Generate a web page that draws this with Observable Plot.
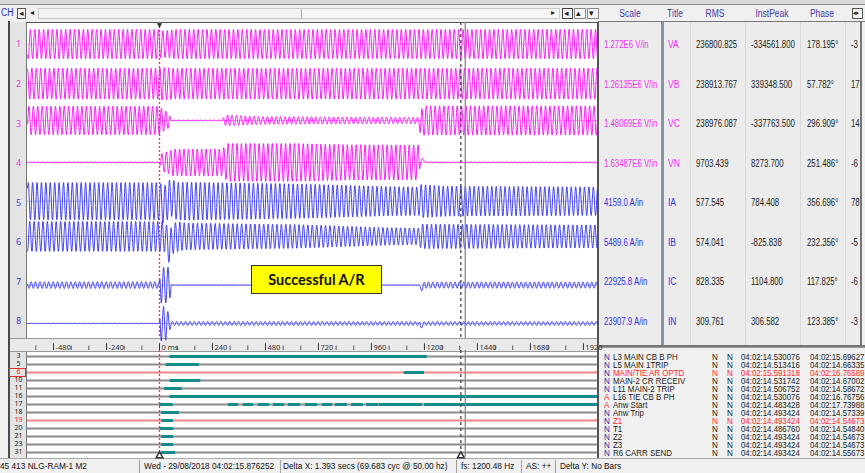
<!DOCTYPE html>
<html><head><meta charset="utf-8">
<script src="https://cdn.jsdelivr.net/npm/d3@7"></script>
<script src="https://cdn.jsdelivr.net/npm/@observablehq/plot@0.6"></script>
<style>
body{margin:0;background:#f0f0f0;}
#w{position:relative;width:865px;height:473px;overflow:hidden;background:#f0f0f0;font-family:"Liberation Sans",Arial,sans-serif;}
#w svg{overflow:visible}
</style></head>
<body><div id="w"></div>
<script>
// ---------------- DATA ----------------
const channels = ["1","2","3","4","5","6","7","8"];
const titles   = ["VA","VB","VC","VN","IA","IB","IC","IN"];
const kinds    = ["V","V","V","V","I","I","I","I"];
const scales   = ["1.272E6 V/in","1.26135E6 V/in","1.48069E6 V/in","1.63487E6 V/in","4159.0 A/in","5489.6 A/in","22925.8 A/in","23907.9 A/in"];
const rms      = ["236800.825","238913.767","238976.087","9703.439","577.545","574.041","828.335","309.761"];
const instPeak = ["-334561.800","339348.500","-337763.500","8273.700","784.408","-825.838","1104.800","306.582"];
const phase    = ["178.195°","57.782°","296.909°","251.486°","356.696°","232.356°","117.825°","123.385°"];
const nextCol  = ["-3","17","14","-6","78","-5","-6","-3"];

// envelope (half peak-to-peak, in channel heights) at [time ms, amplitude]
const envVA = [[-600,0.37],[0,0.37],[10,0.33],[50,0.35],[60,0.37],[2000,0.37]];
const envVB = [[-600,0.39],[0,0.39],[10,0.41],[50,0.40],[60,0.39],[2000,0.39]];
const envVC = [[-600,0.36],[0,0.36],[5,0.32],[45,0.18],[52,0.01],[280,0.01],[300,0.14],[450,0.10],[800,0.09],[1175,0.08],[1182,0.38],[1220,0.37],[2000,0.37]];
const envVN = [[-600,0.01],[0,0.01],[8,0.22],[50,0.30],[60,0.34],[285,0.34],[310,0.48],[620,0.48],[850,0.45],[1175,0.44],[1182,0.04],[1215,0.01],[2000,0.01]];
const envIA = [[-600,0.47],[0,0.47],[50,0.47],[120,0.48],[620,0.44],[1050,0.37],[1178,0.36],[1184,0.42],[1300,0.38],[2000,0.36]];
const envIB = [[-600,0.38],[0,0.38],[50,0.40],[120,0.34],[620,0.30],[1050,0.22],[1178,0.21],[1184,0.31],[2000,0.29]];
const envIC = [[-600,0.085],[0,0.085],[3,0.45],[45,0.45],[55,0.005],[1178,0.005],[1186,0.08],[2000,0.08]];
const envIN = [[-600,0.005],[0,0.005],[3,0.45],[30,0.42],[55,0.05],[2000,0.05]];
const envelopes = [envVA,envVB,envVC,envVN,envIA,envIB,envIC,envIN];
// trace centre and transient offsets (channel heights)
const centre = [0.01,0.01,0.08,0.02,0.04,0.15,-0.08,-0.05];
const dcVA = [[0,0]], dcVB = [[0,0]];
const dcVC = [[1178,0],[1184,-0.12],[1198,0]];
const dcVN = [[1178,0],[1190,0.08],[1210,0]];
const dcIA = [[0,0],[20,-0.1],[50,0.1],[80,0]];
const dcIB = [[25,0],[45,-0.3],[60,-0.05],[90,0]];
const dcIC = [[1176,0],[1184,-0.09],[1200,0]];
const dcIN = [[1176,0],[1184,-0.08],[1200,0]];
const offsets = [dcVA,dcVB,dcVC,dcVN,dcIA,dcIB,dcIC,dcIN];
const sampleRate = 1200.48, lineFreq = 50;  // from status bar

// digital channels
const digitalRows  = ["3","5","6","10","11","16","17","18","19","20","21","23","31"];
const digitalFlag  = ["N","N","N","N","N","A","A","N","N","N","N","N","N"];
const digitalNames = ["L3 MAIN CB B PH","L5 MAIN 1TRIP","MAIN/TIE AR OPTD","MAIN-2 CR RECEIV","L11 MAIN-2 TRIP","L16 TIE CB B PH","Anw Start","Anw Trip","Z1","T1","Z2","Z3","R6 CARR SEND"];
const digitalOn    = ["04:02:14.530076","04:02:14.513416","04:02:15.591318","04:02:14.531742","04:02:14.506752","04:02:14.530076","04:02:14.483428","04:02:14.493424","04:02:14.493424","04:02:14.486760","04:02:14.493424","04:02:14.493424","04:02:14.493424"];
const digitalOff   = ["04:02:15.69627","04:02:14.66335","04:02:16.76589","04:02:14.67002","04:02:14.58672","04:02:16.76756","04:02:17.73988","04:02:14.57339","04:02:14.54673","04:02:14.54840","04:02:14.54673","04:02:14.54673","04:02:14.55673"];
const highlightRows = ["6","19"];
// active (teal) spans per row: [row, start ms, end ms]
const spans = [
  ["3",47,1213],["5",30,180],["6",1108,1200],["10",48,187],["11",23,103],["16",47,2000],
  ["17",0,62],["17",312,358],["17",380,426],["17",448,498],["17",516,566],["17",584,639],
  ["17",661,716],["17",738,784],["17",797,851],["17",870,924],["17",938,992],["17",996,1191],["17",1200,2000],
  ["18",10,90],["19",10,63],["20",3,65],["21",10,63],["23",10,63],["31",10,73]
];
const majorTicks = [-480,-240,0,240,480,720,960,1200,1440,1680,1920];
const minorTicks = [-560,-400,-320,-160,-80,80,160,320,400,560,640,800,880,1040,1120,1280,1360,1520,1600,1760,1840];
const cursors = {trigger:0, dashed:1365, second:1385};
const annotation = "Successful A/R";
const statusItems = ["45 413 NLG-RAM-1 M2","Wed - 29/08/2018 04:02:15.876252","Delta X: 1.393 secs  (69.683 cyc @ 50.00 hz)","fs:  1200.48 Hz","AS: ++","Delta Y:  No Bars"];
const headers = ["Scale","Title","RMS","InstPeak","Phase"];

// ---------------- helpers ----------------
const W = document.getElementById("w");
function box(x,y,w,h,st){const d=document.createElement("div");Object.assign(d.style,{position:"absolute",left:x+"px",top:y+"px",width:w+"px",height:h+"px",boxSizing:"border-box"},st||{});W.appendChild(d);return d;}
function txt(x,yc,s,o={}){const d=document.createElement("div");const size=o.size||10;const lh=o.lh||size*1.2;d.textContent=s;
  Object.assign(d.style,{position:"absolute",left:x+"px",top:(yc-lh/2)+"px",fontSize:size+"px",lineHeight:lh+"px",height:lh+"px",whiteSpace:"nowrap",color:o.color||"#111",fontFamily:o.font||'"Liberation Sans", Arial, sans-serif',fontWeight:o.bold?"bold":"normal",transformOrigin:o.center?"50% 50%":"0 50%",transform:(o.center?"translateX(-50%) ":"")+`scaleX(${o.sx??0.8})`});
  W.appendChild(d);return d;}
function place(el,x,y){const d=document.createElement("div");Object.assign(d.style,{position:"absolute",left:x+"px",top:y+"px"});d.appendChild(el);W.appendChild(d);return d;}
function interp(keys,t){if(t<=keys[0][0])return keys[0][1];for(let k=1;k<keys.length;k++){if(t<=keys[k][0]){const[t0,v0]=keys[k-1],[t1,v1]=keys[k];return v0+(v1-v0)*(t-t0)/(t1-t0);}}return keys[keys.length-1][1];}
const MAG="#ff00ff", BLU="#2b2bf5", TEAL="#158b8b", RED="#ff2a2a";
const xDomain=[-598,1984];

// ---------------- window chrome ----------------
box(0,0,865,4,{background:"#d8d8d8"});
box(0,4,865,1,{background:"#8a8a8a"});
txt(1,13,"CH",{color:"#2a2ac0",size:10,sx:0.85});
box(17,8,9,11,{border:"1px solid #555",background:"#f4f4f4"});
txt(19,13,"◂",{size:9,sx:1,color:"#222"});
txt(30,13,"◂",{size:8,sx:1,color:"#222"});
box(38,8,522,11,{border:"1px solid #c8c8c8",background:"#f7f7f7"});
box(40,9,262,9,{borderRight:"1px solid #aaa",background:"#f3f3f3"});
txt(551,13,"▸",{size:8,sx:1,color:"#222"});
box(562,8,11,11,{border:"1px solid #444",background:"#f4f4f4"});txt(564,13,"◂",{size:9,sx:1,color:"#222"});
box(574,8,12,11,{border:"1px solid #888",background:"#f4f4f4"});txt(576,13,"▴",{size:9,sx:1,color:"#222"});
box(587,8,12,11,{border:"1px solid #888",background:"#f4f4f4"});txt(589,13,"▾",{size:9,sx:1,color:"#222"});
// header of right table
const hdrX=[630,675,715,772,822];
headers.forEach((h,i)=>txt(hdrX[i],14,h,{color:"#3a3aa8",size:10,sx:0.85,center:true}));
box(852,8,11,11,{border:"1px solid #555",background:"#f4f4f4"});txt(853,13,"◂▸",{size:7,sx:0.8,color:"#222"});

// frame + gutters
box(8,21,2,437,{background:"#4a4a4a"});
box(10,22,17,316,{background:"#e4e4e4"});
box(26,22,572,316,{background:"#fff",borderTop:"1px solid #555",borderLeft:"1px solid #777"});
box(10,338,588,14,{background:"#e9e9e9",borderTop:"1px solid #999",borderBottom:"1px solid #999"});
box(10,352,17,106,{background:"#e4e4e4"});
box(26,352,572,106,{background:"#fff",borderLeft:"1px solid #777"});
box(597,22,2,436,{background:"#555"});

// right table
box(599,22,262,323,{background:"#ececec"});
box(598,21,267,1,{background:"#777"});
box(661,22,3,323,{background:"#8595a8"});
[690,745,800,845].forEach(x=>box(x,22,1,323,{background:"#dadada"}));
box(860,22,2,323,{background:"#777"});
box(598,345,267,2,{background:"#777"});
const rowY=i=>45+39.57*i;
channels.forEach((c,i)=>{
  const col=kinds[i]==="V"?"#f030f0":"#3333e6";
  txt(604,rowY(i),scales[i],{color:col,size:10,sx:0.78});
  txt(668,rowY(i),titles[i],{color:col,size:10,sx:0.85});
  txt(696,rowY(i),rms[i],{size:10,sx:0.78,color:"#222"});
  txt(751,rowY(i),instPeak[i],{size:10,sx:0.78,color:"#222"});
  txt(807,rowY(i),phase[i],{size:10,sx:0.78,color:"#222"});
  txt(851,rowY(i),nextCol[i],{size:10,sx:0.78,color:"#222"});
});
// digital list
box(599,347,266,111,{background:"#f0f0f0",borderTop:"1px solid #999"});
const dRowY=i=>357+8*i;
const dOpt=(col,sx)=>({color:col,size:9,lh:8,sx:sx});
digitalRows.forEach((r,i)=>{
  const hl=highlightRows.includes(r);
  const col=hl?RED:"#222";
  const y=dRowY(i);
  txt(604,y,digitalFlag[i],dOpt(digitalFlag[i]==="A"?RED:"#2626a6",0.9));
  txt(613,y,digitalNames[i],dOpt(col,0.88));
  txt(712,y,"N",dOpt(col,0.9));
  txt(727,y,"N",dOpt(col,0.9));
  txt(741,y,digitalOn[i],dOpt(col,0.87));
  txt(810,y,digitalOff[i],dOpt(col,0.87));
});

// status bar
box(0,458,865,15,{background:"#f0f0f0",borderTop:"1px solid #a8a8a8"});
const stX=[0,144,283,461,526,560], sepX=[139,280,456,521,555];
sepX.forEach(x=>box(x,460,1,13,{background:"#a0a0a0"}));
statusItems.forEach((s,i)=>txt(stX[i],466,s,{size:9,lh:11,sx:0.92,color:"#111"}));

// ---------------- analog traces ----------------
const samples=[];
for(let c=0;c<8;c++){
  const ph=parseFloat(phase[c])*Math.PI/180;
  const n0=Math.ceil(xDomain[0]*sampleRate/1000), n1=Math.floor(xDomain[1]*sampleRate/1000);
  for(let n=n0;n<=n1;n++){
    const t=n*1000/sampleRate;
    const v=-c+centre[c]+interp(offsets[c],t)+interp(envelopes[c],t)*Math.sin(2*Math.PI*lineFreq*t/1000+ph);
    samples.push({ch:c,t,v});
  }
}
const chIdx=d3.range(8);
const colorOf=c=>kinds[c]==="V"?MAG:BLU;
const analog=Plot.plot({
  width:588,height:316,marginLeft:17,marginRight:1,marginTop:0,marginBottom:0,
  x:{domain:xDomain,axis:null},
  y:{domain:[-7.43,0.556],axis:null},
  style:{background:"transparent",overflow:"visible"},
  marks:[
    Plot.ruleY(chIdx,{y:c=>-c+centre[c],stroke:c=>colorOf(c),strokeOpacity:0.35,strokeWidth:1}),
    Plot.line(samples,{x:"t",y:"v",z:"ch",stroke:d=>colorOf(d.ch),strokeWidth:0.9,curve:"linear"}),
    Plot.ruleX([cursors.trigger],{stroke:"#ff3030",strokeDasharray:"2,2",strokeWidth:1.3}),
    Plot.ruleX([cursors.dashed],{stroke:"#444",strokeDasharray:"3,3",strokeWidth:1.3}),
    Plot.ruleX([cursors.second],{stroke:"#888",strokeWidth:1.3}),
    Plot.dot([cursors.trigger],{x:d=>d,y:0.5,symbol:"triangle",rotate:180,r:2,fill:"#333",stroke:"none"}),
    Plot.text(chIdx,{x:xDomain[0],y:c=>-c,text:c=>channels[c],dx:-9,fill:c=>kinds[c]==="V"?"#e040e0":"#4040e0",fontSize:9,textAnchor:"middle"})
  ]
});
place(analog,10,22);

// ---------------- digital traces + time axis ----------------
const rowIdx=d3.range(digitalRows.length);
const digital=Plot.plot({
  width:588,height:120,marginLeft:17,marginRight:1,marginTop:14,marginBottom:0,
  x:{domain:xDomain,axis:null},
  y:{domain:[0,12],range:[18,114],axis:null},
  style:{background:"transparent",overflow:"visible"},
  marks:[
    Plot.ruleX(majorTicks,{x:d=>d,y1:-1.6,y2:-0.75,stroke:"#333",strokeWidth:1}),
    Plot.ruleX(minorTicks,{x:d=>d,y1:-1.3,y2:-0.75,stroke:"#555",strokeWidth:1}),
    Plot.text(majorTicks,{x:d=>d,y:-1.1,text:d=>d===0?"0 ms":String(d),dx:2,textAnchor:"start",fontSize:7.5,fill:"#333"}),
    Plot.ruleY(rowIdx,{y:d=>d,stroke:d=>highlightRows.includes(digitalRows[d])?"#f08484":"#8c8c8c",strokeWidth:2}),
    Plot.ruleY(spans,{y:d=>digitalRows.indexOf(d[0]),x1:d=>d[1],x2:d=>Math.min(d[2],xDomain[1]),stroke:TEAL,strokeWidth:3}),
    Plot.ruleX([cursors.trigger],{y1:-0.75,y2:12.6,stroke:"#ff3030",strokeDasharray:"2,2",strokeWidth:1.3}),
    Plot.ruleX([cursors.dashed],{y1:-0.75,y2:12.6,stroke:"#444",strokeDasharray:"3,3",strokeWidth:1.3}),
    Plot.ruleX([cursors.second],{y1:-0.75,y2:12.6,stroke:"#888",strokeWidth:1.3}),
    Plot.dot([cursors.trigger,cursors.dashed],{x:d=>d,y:12.4,symbol:"triangle",r:2.5,fill:"#fff",stroke:"#333"}),
    Plot.text(rowIdx,{x:xDomain[0],y:d=>d,text:d=>digitalRows[d],dx:-9,dy:-0.5,fontSize:7,textAnchor:"middle",fill:d=>highlightRows.includes(digitalRows[d])?RED:"#222"})
  ]
});
place(digital,10,338);
box(9,368,17,9,{border:"1px solid #e03030"});

// annotation
const ann=box(251,265,131,29,{background:"#ffff00",border:"1.5px solid #333",display:"flex",alignItems:"center",justifyContent:"center"});
ann.textContent=annotation;
Object.assign(ann.style,{font:'bold 14.5px Lato, "Open Sans", sans-serif',color:"#111"});
</script>
</body></html>
